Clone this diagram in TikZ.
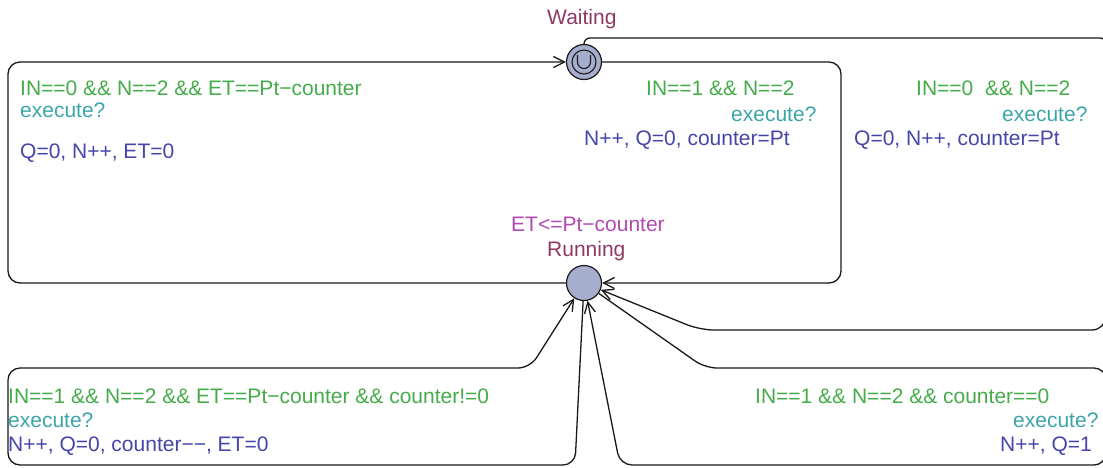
\documentclass[tikz,border=0pt]{standalone}
\usepackage{fontspec}
\setmainfont{Liberation Sans}
\usetikzlibrary{arrows.meta}
\definecolor{locfill}{RGB}{166,174,206}
\definecolor{cname}{RGB}{143,57,100}
\definecolor{cinv}{RGB}{178,72,178}
\definecolor{cguard}{RGB}{70,172,75}
\definecolor{csync}{RGB}{60,165,170}
\definecolor{cupd}{RGB}{70,70,170}
\definecolor{cline}{RGB}{25,25,25}
\begin{document}
\begin{tikzpicture}[x=1pt,y=-1pt,
  loc/.style={circle,draw=cline,line width=1.2pt,fill=locfill,minimum size=35pt,inner sep=0pt},
  edge/.style={draw=cline,line width=1.3pt,rounded corners=12pt,-{Straight Barb[length=11pt,width=11pt,line width=1.3pt]}},
  lbl/.style={anchor=base west,inner sep=0pt,font=\fontsize{21}{25}\selectfont},
  guard/.style={lbl,text=cguard},
  sync/.style={lbl,text=csync},
  upd/.style={lbl,text=cupd},
  lname/.style={lbl,text=cname},
  inv/.style={lbl,text=cinv}]
\useasboundingbox (0,0) rectangle (1103,467);
\fill[white] (0,0) rectangle (1103,467);

% locations
\node[loc] (W) at (584,62) {};
\draw[cline,line width=1.1pt] (W.center) circle[radius=12pt];
\draw[cline,line width=1.1pt] (577.5,55) -- (577.5,62) arc[start angle=180,end angle=360,radius=6.5pt] -- (590.5,55);
\node[loc] (R) at (584,283) {};

\node[lname] (wname) at (547,24) {Waiting};
\node[inv] (rinv) at (511,231) {ET<=Pt−counter};
\node[lname] (rname) at (547,256) {Running};

% edges
\draw[edge] (R) -- (8,283) -- (8,62) -- (W);
\draw[edge] (W) -- (841,62) -- (841,283) -- (R);
\draw[edge] (W.north) [rounded corners=6pt] |- (1106,38) [rounded corners=14pt] -- (1106,330) -- (700,330) -- (R);
\draw[edge] (R) -- (575,465) -- (8,465) -- (8,368) -- (530,368) -- (R);
\draw[edge] (R) -- (705,368) -- (1106,368) -- (1106,465) -- (620,465) -- (R);

% labels: Running -> Waiting (left)
\node[guard] (g1) at (20,95) {IN==0 \&\& N==2 \&\& ET==Pt−counter};
\node[sync] (s1) at (20,117) {execute?};
\node[upd] (u1) at (20,158) {Q=0, N++, ET=0};

% Waiting -> Running (middle)
\node[guard] (g2) at (646,95) {IN==1 \&\& N==2};
\node[sync] (s2) at (731,121) {execute?};
\node[upd] (u2) at (584,145) {N++, Q=0, counter=Pt};

% Waiting -> Running (right)
\node[guard] (g3) at (916,95) {IN==0\ \ \&\& N==2};
\node[sync] (s3) at (1002,121) {execute?};
\node[upd] (u3) at (854,145) {Q=0, N++, counter=Pt};

% Running self loop (bottom left)
\node[guard] (g4) at (8,403) {IN==1 \&\& N==2 \&\& ET==Pt−counter \&\& counter!=0};
\node[sync] (s4) at (8,427) {execute?};
\node[upd] (u4) at (8,451) {N++, Q=0, counter−−, ET=0};

% Running self loop (bottom right)
\node[guard] (g5) at (755,403) {IN==1 \&\& N==2 \&\& counter==0};
\node[sync] (s5) at (1013,427) {execute?};
\node[upd] (u5) at (1000,451) {N++, Q=1};
\end{tikzpicture}
\end{document}
